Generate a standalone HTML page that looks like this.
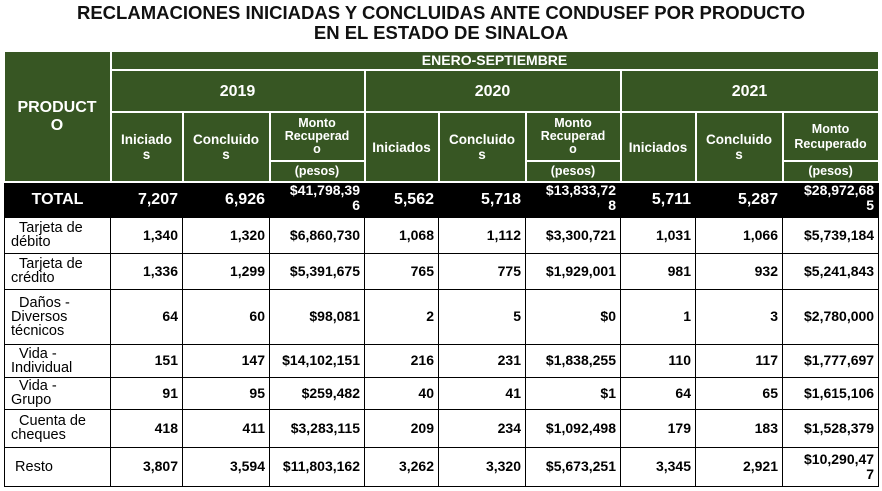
<!DOCTYPE html>
<html><head><meta charset="utf-8"><style>
body{margin:0;width:882px;height:491px;background:#fff;font-family:"Liberation Sans",sans-serif;overflow:hidden}
h1{position:absolute;left:0;top:3px;width:882px;margin:0;text-align:center;font-size:18.5px;line-height:20px;font-weight:bold;color:#111}
table{position:absolute;left:4px;top:50px;border-collapse:collapse;table-layout:fixed;width:874px}
td{padding:0 4px;font-size:13.5px;font-weight:bold;overflow:hidden;line-height:15px}
.h td,td.h{background:#375623;color:#fff;border:2px solid #fff;text-align:center}
.t td{background:#000;color:#fff;font-size:16px;text-align:right;border:1px solid #000;border-top:2px solid #fff}
.t td.tm{font-size:14px;line-height:15px;vertical-align:top}
.b td{border:1px solid #000;text-align:right;font-size:14px}
.b td.n{text-align:left;font-weight:normal;font-size:14.5px;line-height:14px;padding-left:6px}
</style></head><body>
<h1>RECLAMACIONES INICIADAS Y CONCLUIDAS ANTE CONDUSEF POR PRODUCTO<br>EN EL ESTADO DE SINALOA</h1>
<table>
<colgroup><col style="width:106px"><col style="width:72px"><col style="width:87px"><col style="width:95px"><col style="width:74px"><col style="width:87px"><col style="width:95px"><col style="width:75px"><col style="width:87px"><col style="width:96px"></colgroup>
<tr class="h" style="height:19px"><td rowspan="4" style="font-size:16px;line-height:18px;border-left:0">PRODUCT<br>O</td><td colspan="9" style="font-size:14px">ENERO-SEPTIEMBRE</td></tr>
<tr class="h" style="height:42px"><td colspan="3" style="font-size:16px">2019</td><td colspan="3" style="font-size:16px">2020</td><td colspan="3" style="font-size:16px">2021</td></tr>
<tr class="h" style="height:49px"><td rowspan="2">Iniciado<br>s</td><td rowspan="2">Concluido<br>s</td><td style="font-size:12.5px;line-height:13px">Monto<br>Recuperad<br>o</td><td rowspan="2">Iniciados</td><td rowspan="2">Concluido<br>s</td><td style="font-size:12.5px;line-height:13px">Monto<br>Recuperad<br>o</td><td rowspan="2">Iniciados</td><td rowspan="2">Concluido<br>s</td><td style="font-size:12.5px;line-height:15px">Monto<br>Recuperado</td></tr>
<tr class="h" style="height:21px"><td style="font-size:12.5px">(pesos)</td><td style="font-size:12.5px">(pesos)</td><td style="font-size:12.5px">(pesos)</td></tr>
<tr class="t" style="height:35px"><td style="text-align:center">TOTAL</td><td>7,207</td><td>6,926</td><td class="tm">$41,798,39<br>6</td><td>5,562</td><td>5,718</td><td class="tm">$13,833,72<br>8</td><td>5,711</td><td>5,287</td><td class="tm">$28,972,68<br>5</td></tr>
<tr class="b" style="height:36px"><td class="n">&nbsp;&nbsp;Tarjeta de<br>débito</td><td>1,340</td><td>1,320</td><td>$6,860,730</td><td>1,068</td><td>1,112</td><td>$3,300,721</td><td>1,031</td><td>1,066</td><td>$5,739,184</td></tr>
<tr class="b" style="height:36px"><td class="n">&nbsp;&nbsp;Tarjeta de<br>crédito</td><td>1,336</td><td>1,299</td><td>$5,391,675</td><td>765</td><td>775</td><td>$1,929,001</td><td>981</td><td>932</td><td>$5,241,843</td></tr>
<tr class="b" style="height:55px"><td class="n">&nbsp;&nbsp;Daños -<br>Diversos<br>técnicos</td><td>64</td><td>60</td><td>$98,081</td><td>2</td><td>5</td><td>$0</td><td>1</td><td>3</td><td>$2,780,000</td></tr>
<tr class="b" style="height:33px"><td class="n">&nbsp;&nbsp;Vida -<br>Individual</td><td>151</td><td>147</td><td>$14,102,151</td><td>216</td><td>231</td><td>$1,838,255</td><td>110</td><td>117</td><td>$1,777,697</td></tr>
<tr class="b" style="height:32px"><td class="n">&nbsp;&nbsp;Vida -<br>Grupo</td><td>91</td><td>95</td><td>$259,482</td><td>40</td><td>41</td><td>$1</td><td>64</td><td>65</td><td>$1,615,106</td></tr>
<tr class="b" style="height:38px"><td class="n">&nbsp;&nbsp;Cuenta de<br>cheques</td><td>418</td><td>411</td><td>$3,283,115</td><td>209</td><td>234</td><td>$1,092,498</td><td>179</td><td>183</td><td>$1,528,379</td></tr>
<tr class="b" style="height:39px"><td class="n">&nbsp;Resto</td><td>3,807</td><td>3,594</td><td>$11,803,162</td><td>3,262</td><td>3,320</td><td>$5,673,251</td><td>3,345</td><td>2,921</td><td style="line-height:15px">$10,290,47<br>7</td></tr>
</table>
</body></html>
